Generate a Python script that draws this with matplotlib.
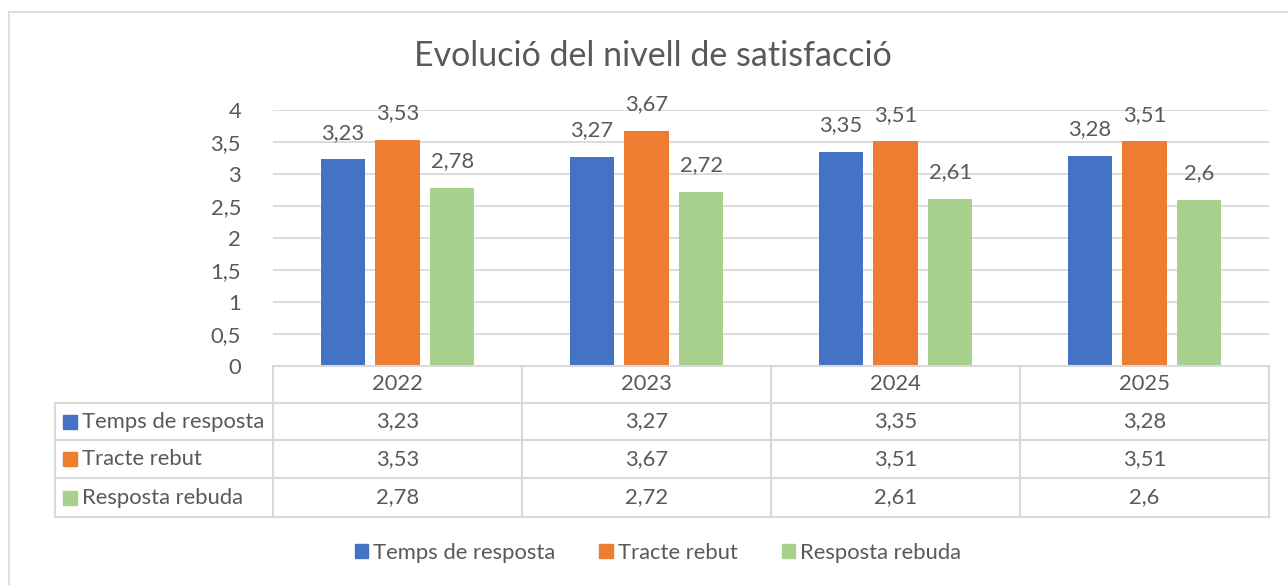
import matplotlib
matplotlib.use("Agg")
import matplotlib.pyplot as plt
from matplotlib.lines import Line2D
from matplotlib.patches import Rectangle
import numpy as np

plt.rcParams['font.family'] = ['Lato', 'DejaVu Sans']

years = ["2022", "2023", "2024", "2025"]
series_names = ["Temps de resposta", "Tracte rebut", "Resposta rebuda"]
temps = [3.23, 3.27, 3.35, 3.28]
tracte = [3.53, 3.67, 3.51, 3.51]
resposta = [2.78, 2.72, 2.61, 2.60]
yticks = [0, 0.5, 1, 1.5, 2, 2.5, 3, 3.5, 4]

colors = ["#4472C4", "#ED7D31", "#A9D18E"]
txt = "#595959"
grid = "#D9D9D9"
FS = 15.8

W, H = 1288, 585
fig = plt.figure(figsize=(W / 100, H / 100), dpi=100)

def fx(x):
    return x / W

def fy(y):
    return 1 - y / H

def fmt(v):
    s = f"{v:.2f}".rstrip("0").rstrip(".")
    return s.replace(".", ",")

# outer chart border
fig.add_artist(Line2D([fx(9), fx(9)], [fy(12), 0], color=grid, lw=1.2))
fig.add_artist(Line2D([fx(9), 1], [fy(12), fy(12)], color=grid, lw=1.2))

# plot area
left, right, top, bottom = 273, 1269, 110, 366
ax = fig.add_axes([fx(left), fy(bottom), fx(right) - fx(left), fy(top) - fy(bottom)])
ax.set_xlim(-0.5, 3.5)
ax.set_ylim(0, 4)
ax.set_yticks(yticks)
ax.set_yticklabels([fmt(t) for t in yticks], fontsize=FS, color=txt)
ax.tick_params(axis='y', length=0, pad=23)
ax.set_xticks([])
for s in ax.spines.values():
    s.set_visible(False)
ax.grid(axis='y', color=grid, lw=1.3)
ax.set_axisbelow(True)

x = np.arange(len(years))
bw = 0.177
step = 0.22
data = [temps, tracte, resposta]
for i, (vals, c) in enumerate(zip(data, colors)):
    pos = x + (i - 1) * step
    ax.bar(pos, vals, width=bw, color=c, zorder=2)
    for p, v in zip(pos, vals):
        ax.annotate(fmt(v), (p, v), xytext=(0, 12), textcoords='offset points',
                    ha='center', va='bottom', fontsize=FS, color=txt)

fig.text(0.5 * (fx(413) + fx(893)), fy(56), "Evolució del nivell de satisfacció",
         ha='center', va='center', fontsize=24.5, color=txt)

# data table
col_edges = [left + (right - left) * k / 4 for k in range(5)]
row_edges = [366, 403, 440, 478, 517]
tl = 55
lw_t = 1.5
fig.add_artist(Line2D([fx(left), fx(right)], [fy(row_edges[0])] * 2, color=grid, lw=lw_t))
for ry in row_edges[1:]:
    fig.add_artist(Line2D([fx(tl), fx(right)], [fy(ry)] * 2, color=grid, lw=lw_t))
for cx in col_edges:
    fig.add_artist(Line2D([fx(cx)] * 2, [fy(row_edges[0]), fy(row_edges[-1])], color=grid, lw=lw_t))
fig.add_artist(Line2D([fx(tl)] * 2, [fy(row_edges[1]), fy(row_edges[-1])], color=grid, lw=lw_t))

for k, yr in enumerate(years):
    cx = 0.5 * (col_edges[k] + col_edges[k + 1])
    fig.text(fx(cx), fy(0.5 * (row_edges[0] + row_edges[1])), yr,
             ha='center', va='center', fontsize=FS, color=txt)
for r, (name, vals, c) in enumerate(zip(series_names, data, colors)):
    cy = 0.5 * (row_edges[r + 1] + row_edges[r + 2])
    fig.add_artist(Rectangle((fx(63), fy(cy + 7)), fx(14), 14 / H, color=c))
    fig.text(fx(82), fy(cy), name, ha='left', va='center', fontsize=FS, color=txt)
    for k, v in enumerate(vals):
        cx = 0.5 * (col_edges[k] + col_edges[k + 1])
        fig.text(fx(cx), fy(cy), fmt(v), ha='center', va='center', fontsize=FS, color=txt)

# legend
handles = [Rectangle((0, 0), 1, 1, color=c) for c in colors]
fig.legend(handles, series_names, loc='center', bbox_to_anchor=(fx(658), fy(553)),
           ncol=3, frameon=False, fontsize=FS, labelcolor=txt,
           handlelength=0.6, handleheight=0.6, handletextpad=0.25, columnspacing=2.0)

fig.savefig("out.png", dpi=100)
